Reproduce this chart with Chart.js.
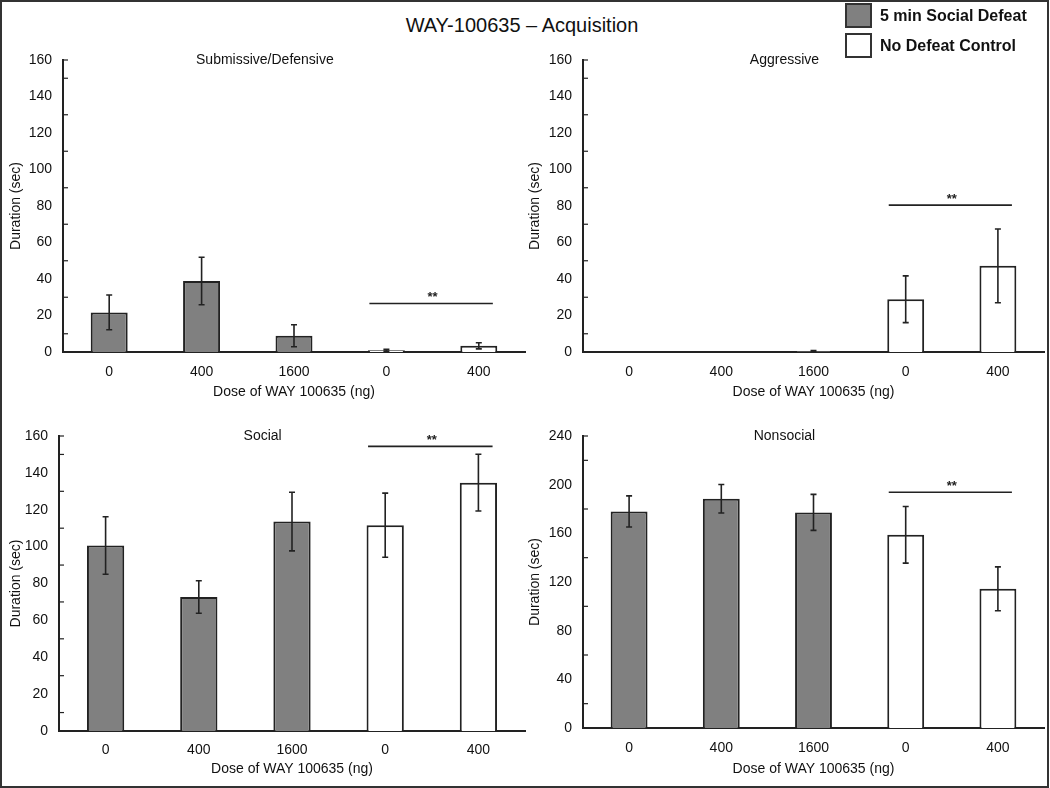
<!DOCTYPE html>
<html>
<head>
<meta charset="utf-8">
<script src="https://cdn.jsdelivr.net/npm/chart.js@4.4.1/dist/chart.umd.min.js"></script>
<style>
  body { margin: 0; background: #fff; font-family: 'Liberation Sans', Arial, sans-serif; }
  #fig { position: relative; width: 1050px; height: 788px; overflow: hidden; }
  #frame { position: absolute; left: 0; top: 0; width: 1049px; height: 788px; box-sizing: border-box; border: 2px solid #333; }
  canvas { position: absolute; }
  #title { position: absolute; left: 0; width: 1044px; top: 13px; line-height: 24px; text-align: center; font-size: 20px; color: #111; }
  .key { position: absolute; left: 845px; height: 25px; line-height: 25px; font-size: 16px; font-weight: bold; color: #111; }
  .key span { position: absolute; left: 0; top: 0; width: 27px; height: 25px; box-sizing: border-box; border: 2px solid #333; }
  .key b { position: absolute; left: 35px; top: 0; white-space: nowrap; }
</style>
</head>
<body>
<div id="fig">
  <div id="frame"></div>
  <div id="title">WAY-100635 – Acquisition</div>
  <canvas id="c1" width="530" height="405"></canvas>
  <canvas id="c2" width="525" height="405"></canvas>
  <canvas id="c3" width="530" height="383"></canvas>
  <canvas id="c4" width="525" height="383"></canvas>
  <div class="key" style="top:3px"><span style="background:#808080"></span><b>5 min Social Defeat</b></div>
  <div class="key" style="top:33px"><span style="background:#fff"></span><b>No Defeat Control</b></div>
</div>
<script>
// doses on the x axis, first three are defeat groups, last two controls
var doses = ['0', '400', '1600', '0', '400'];
var groups = ['5 min Social Defeat', 'No Defeat Control'];

var subDefeat = [21.7, 38.9, 8.9, null, null];
var subDefeatErr = [9.5, 13, 6, null, null];
var subControl = [null, null, null, 1, 3.4];
var subControlErr = [null, null, null, 0.5, 1.7];
var subSig = 26.6;

var aggDefeat = [0, 0, 0.5, null, null];
var aggDefeatErr = [0, 0, 0.3, null, null];
var aggControl = [null, null, null, 28.9, 47.2];
var aggControlErr = [null, null, null, 12.8, 20.2];
var aggSig = 80.5;

var socDefeat = [100.6, 72.7, 113.6, null, null];
var socDefeatErr = [15.6, 8.8, 15.9, null, null];
var socControl = [null, null, null, 111.6, 134.7];
var socControlErr = [null, null, null, 17.4, 15.4];
var socSig = 154.4;

var nonDefeat = [178, 188.4, 177.2, null, null];
var nonDefeatErr = [12.8, 11.7, 14.8, null, null];
var nonControl = [null, null, null, 158.8, 114.4];
var nonControlErr = [null, null, null, 23.3, 18];
var nonSig = 193.8;

var panels = [
  { id: 'c1', title: 'Submissive/Defensive', defeat: subDefeat, defeatErr: subDefeatErr, control: subControl, controlErr: subControlErr, sig: subSig, max: 160, step: 10 },
  { id: 'c2', title: 'Aggressive', defeat: aggDefeat, defeatErr: aggDefeatErr, control: aggControl, controlErr: aggControlErr, sig: aggSig, max: 160, step: 10 },
  { id: 'c3', title: 'Social', defeat: socDefeat, defeatErr: socDefeatErr, control: socControl, controlErr: socControlErr, sig: socSig, max: 160, step: 10 },
  { id: 'c4', title: 'Nonsocial', defeat: nonDefeat, defeatErr: nonDefeatErr, control: nonControl, controlErr: nonControlErr, sig: nonSig, max: 240, step: 20 }
];

// where each canvas sits and where its plot area should land (canvas coords)
var boxes = {
  c1: { left: 0, top: 0, w: 530, h: 405, areaL: 63, areaT: 60, padR: 5, areaB: 352, yTitleX: 16, xTitleY: 392, tickPad: 12 },
  c2: { left: 525, top: 0, w: 525, h: 405, areaL: 58, areaT: 60, padR: 6, areaB: 352, yTitleX: 10, xTitleY: 392, tickPad: 12 },
  c3: { left: 0, top: 405, w: 530, h: 383, areaL: 59, areaT: 31, padR: 5, areaB: 326, yTitleX: 16, xTitleY: 364, tickPad: 11 },
  c4: { left: 525, top: 405, w: 525, h: 383, areaL: 58, areaT: 31, padR: 6, areaB: 323, yTitleX: 10, xTitleY: 364, tickPad: 12 }
};

var ink = '#222';
var font = { family: "'Liberation Sans', Arial, sans-serif", size: 14 };

var extras = {
  id: 'extras',
  afterDatasetsDraw: function(chart, args, opts) {
    var ctx = chart.ctx, y = chart.scales.y, area = chart.chartArea;
    ctx.save();
    ctx.strokeStyle = ink;
    ctx.lineWidth = 1.6;

    // error bars
    [opts.defeatErr, opts.controlErr].forEach(function(errs, di) {
      var meta = chart.getDatasetMeta(di);
      var vals = chart.data.datasets[di].data;
      meta.data.forEach(function(el, i) {
        if (vals[i] == null || !errs[i]) return;
        var top = y.getPixelForValue(vals[i] + errs[i]);
        var bot = y.getPixelForValue(Math.max(0, vals[i] - errs[i]));
        ctx.beginPath();
        ctx.moveTo(el.x, top); ctx.lineTo(el.x, bot);
        ctx.moveTo(el.x - 3, top); ctx.lineTo(el.x + 3, top);
        ctx.moveTo(el.x - 3, bot); ctx.lineTo(el.x + 3, bot);
        ctx.stroke();
      });
    });

    // significance bar over the control pair
    var cm = chart.getDatasetMeta(1);
    var a = cm.data[3], b = cm.data[4];
    var sy = y.getPixelForValue(opts.sig);
    ctx.beginPath();
    ctx.moveTo(a.x - a.width * 0.46, sy);
    ctx.lineTo(b.x + b.width * 0.38, sy);
    ctx.stroke();
    ctx.fillStyle = ink;
    ctx.font = 'bold 13px ' + font.family;
    ctx.textAlign = 'center';
    ctx.textBaseline = 'middle';
    ctx.fillText('**', (a.x + b.x) / 2, sy - 6);

    // minor ticks pointing into the plot
    ctx.lineWidth = 1.2;
    y.ticks.forEach(function(t) {
      if (t.value % (opts.step * 2) === 0 && t.value !== opts.max) return;
      var py = y.getPixelForValue(t.value);
      ctx.beginPath();
      ctx.moveTo(area.left, py); ctx.lineTo(area.left + 5, py);
      ctx.stroke();
    });

    // panel heading
    ctx.fillStyle = '#111';
    ctx.font = '14px ' + font.family;
    ctx.fillText(opts.title, area.left + area.width * 0.437, area.top);
    ctx.restore();
  }
};

panels.forEach(function(p) {
  var bx = boxes[p.id];
  var cv = document.getElementById(p.id);
  cv.style.left = bx.left + 'px';
  cv.style.top = bx.top + 'px';

  new Chart(cv, {
    type: 'bar',
    data: {
      labels: doses,
      datasets: [{
        label: groups[0],
        data: p.defeat,
        backgroundColor: '#808080',
        borderColor: ink,
        borderWidth: 2,
        barPercentage: 0.4,
        categoryPercentage: 1,
        grouped: false
      }, {
        label: groups[1],
        data: p.control,
        backgroundColor: '#ffffff',
        borderColor: ink,
        borderWidth: 2,
        barPercentage: 0.4,
        categoryPercentage: 1,
        grouped: false
      }]
    },
    options: {
      responsive: false,
      animation: false,
      devicePixelRatio: 1,
      layout: { padding: { top: bx.areaT, right: bx.padR, left: 0, bottom: 0 } },
      plugins: {
        legend: { display: false },
        tooltip: { enabled: false },
        extras: { defeatErr: p.defeatErr, controlErr: p.controlErr, sig: p.sig, step: p.step, max: p.max, title: p.title }
      },
      scales: {
        x: {
          offset: true,
          grid: { display: false, drawTicks: false },
          border: { color: ink, width: 2 },
          ticks: { font: font, color: '#111', padding: bx.tickPad },
          title: { display: true, text: 'Dose of WAY 100635 (ng)', font: font, color: '#111',
                   padding: { top: 0, bottom: bx.h - bx.xTitleY - 8.4 } },
          afterFit: function(s) { s.height = bx.h - bx.areaB; }
        },
        y: {
          min: 0,
          max: p.max,
          grid: { display: false, drawTicks: false },
          border: { color: ink, width: 2 },
          ticks: {
            stepSize: p.step,
            autoSkip: false,
            font: font,
            color: '#111',
            padding: 11,
            callback: function(v) { return v % (p.step * 2) === 0 ? v : ''; }
          },
          title: { display: true, text: 'Duration (sec)', font: font, color: '#111',
                   padding: { top: bx.yTitleX - 8.4, bottom: 0 } },
          afterFit: function(s) { s.width = bx.areaL; }
        }
      }
    },
    plugins: [extras]
  });
});
</script>
</body>
</html>
